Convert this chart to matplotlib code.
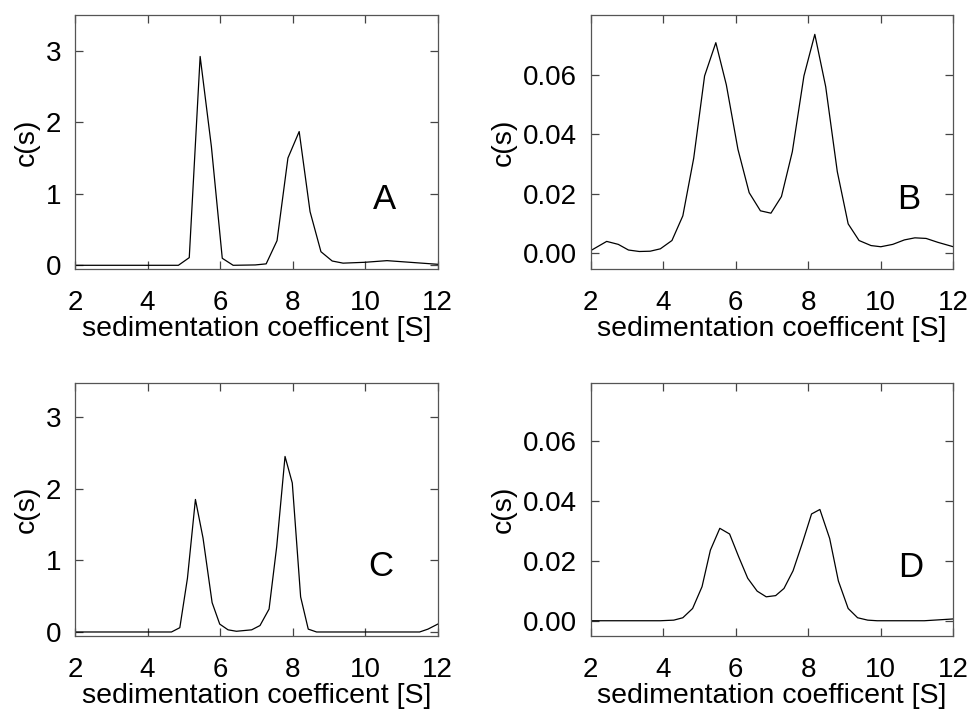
import matplotlib.pyplot as plt

plt.rcParams['font.family'] = ['Liberation Sans', 'DejaVu Sans']

# panel A
xa = [2.0, 4.85, 5.15, 5.45, 5.76, 6.06, 6.36, 6.97, 7.27, 7.57, 7.87, 8.18,
      8.48, 8.78, 9.09, 9.39, 9.99, 10.6, 12.0]
ya = [0.0, 0.0, 0.107, 2.92, 1.66, 0.098, 0.0, 0.005, 0.02, 0.345, 1.50, 1.87,
      0.75, 0.19, 0.06, 0.03, 0.042, 0.065, 0.014]

# panel B
xb = [2.0, 2.44, 2.76, 3.04, 3.34, 3.64, 3.92, 4.24, 4.54, 4.84, 5.14, 5.45,
      5.74, 6.06, 6.37, 6.68, 6.97, 7.26, 7.56, 7.88, 8.18, 8.48, 8.80, 9.10,
      9.40, 9.73, 10.0, 10.33, 10.65, 10.94, 11.25, 11.57, 12.0]
yb = [0.0009, 0.0040, 0.0030, 0.0011, 0.0006, 0.0007, 0.0015, 0.0043, 0.0126,
      0.032, 0.0597, 0.0709, 0.0567, 0.035, 0.0204, 0.0143, 0.0135, 0.0191,
      0.0342, 0.0597, 0.0737, 0.0561, 0.0275, 0.0099, 0.0043, 0.0026, 0.0022,
      0.0030, 0.0045, 0.0052, 0.0050, 0.0037, 0.0022]

# panel C
xc = [2.0, 4.66, 4.89, 5.10, 5.32, 5.53, 5.78, 5.99, 6.22, 6.45, 6.87, 7.10,
      7.35, 7.56, 7.79, 7.99, 8.22, 8.43, 8.66, 11.5, 11.73, 12.0]
yc = [0.0, 0.0, 0.06, 0.75, 1.85, 1.31, 0.41, 0.11, 0.03, 0.01, 0.03, 0.09,
      0.32, 1.19, 2.45, 2.08, 0.49, 0.04, 0.0, 0.0, 0.04, 0.11]

# panel D
xd = [2.0, 3.92, 4.29, 4.54, 4.81, 5.07, 5.30, 5.56, 5.83, 6.08, 6.33, 6.59,
      6.84, 7.10, 7.33, 7.58, 7.84, 8.09, 8.32, 8.59, 8.83, 9.10, 9.36, 9.64,
      9.90, 11.2, 12.0]
yd = [0.0, 0.0, 0.0002, 0.001, 0.0041, 0.0114, 0.0236, 0.0309, 0.029, 0.0214,
      0.0142, 0.0099, 0.008, 0.0084, 0.0108, 0.0167, 0.0261, 0.0357, 0.0372,
      0.0275, 0.0133, 0.0041, 0.001, 0.0002, 0.0, 0.0, 0.0006]

# name, x, y, axes rect, ylim, yticks, tick format, letter pos
panels = [
    ('A', xa, ya, [0.0773, 0.6223, 0.374, 0.3567], (-0.056, 3.5), [0, 1, 2, 3], '%d', (0.853, 0.276)),
    ('B', xb, yb, [0.609, 0.6231, 0.3738, 0.3558], (-0.0052, 0.0802), [0, 0.02, 0.04, 0.06], '%.2f', (0.878, 0.273)),
    ('C', xc, yc, [0.0773, 0.108, 0.374, 0.3553], (-0.056, 3.48), [0, 1, 2, 3], '%d', (0.844, 0.276)),
    ('D', xd, yd, [0.609, 0.108, 0.3738, 0.3553], (-0.0051, 0.0796), [0, 0.02, 0.04, 0.06], '%.2f', (0.883, 0.272)),
]

fig = plt.figure(figsize=(9.7, 7.13), dpi=100)

for name, x, y, pos, ylim, yticks, fmt, tpos in panels:
    ax = fig.add_axes(pos)
    ax.plot(x, y, color='black', lw=0.9)
    ax.set_xlim(2, 12)
    ax.set_ylim(*ylim)
    ax.set_xticks([2, 4, 6, 8, 10, 12])
    ax.set_yticks(yticks)
    ax.set_yticklabels([fmt % v for v in yticks])
    ax.tick_params(direction='in', top=True, right=True, length=5.5, width=0.9,
                   color='#444444', labelsize=20)
    ax.tick_params(axis='x', pad=15)
    ax.tick_params(axis='y', pad=10)
    for s in ax.spines.values():
        s.set_color('#555555')
        s.set_linewidth(0.9)
    ax.set_xlabel('sedimentation coefficent [S]', fontsize=20.5, labelpad=0)
    ax.set_ylabel('c(s)', fontsize=20.5, labelpad=4)
    ax.text(tpos[0], tpos[1], name, transform=ax.transAxes, fontsize=25,
            ha='center', va='center')

fig.savefig('out.png', dpi=100)
